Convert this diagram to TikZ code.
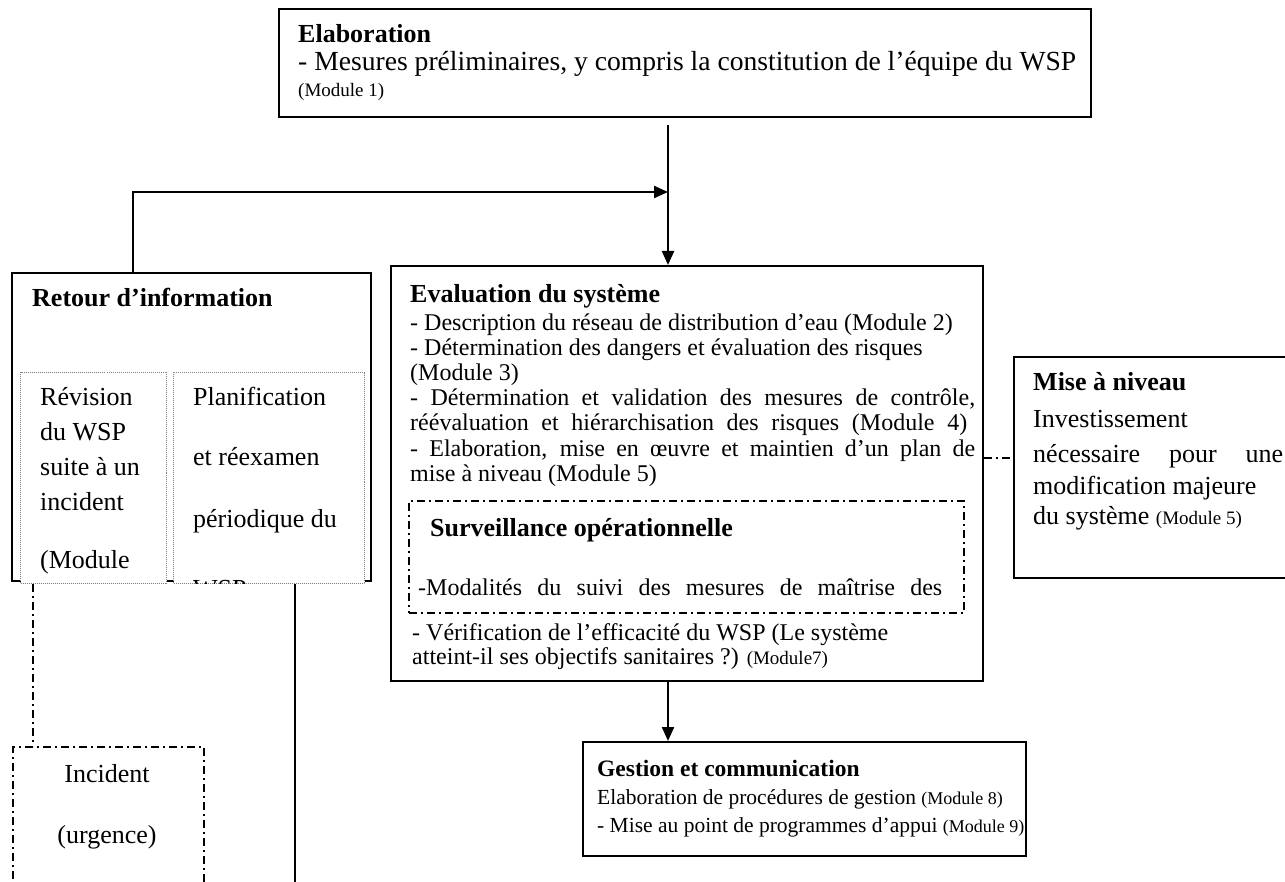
\documentclass[tikz,border=0pt]{standalone}
\usepackage{fontspec}
\setmainfont{Liberation Serif}
\usetikzlibrary{arrows.meta}
\newcommand{\modtag}[1]{{\fontsize{19}{19}\selectfont #1}}
\begin{document}
\begin{tikzpicture}
[x=1pt,y=-1pt,
  boxdecorate/.style={draw,line width=2.2pt,inner sep=0pt,anchor=north west},%
  dotboxdecorate/.style={draw=gray,densely dotted,line width=1pt,fill=white,inner sep=0pt,anchor=north west},%
  dashboxdecorate/.style={draw,line width=2pt,dash pattern=on 8pt off 4pt on 2pt off 4pt,inner sep=0pt,anchor=north west},%
  dashdecorate/.style={line width=2pt,dash pattern=on 8pt off 4pt on 2pt off 4pt},%
  linedecorate/.style={-,line width=2.2pt},%
  arrowdecorate/.style={-{Triangle[length=14pt,width=12pt]},line width=2.2pt},%
  titletext/.style={anchor=base west,inner sep=0pt,font=\fontsize{26}{26}\selectfont\bfseries},%
  bodytext/.style={anchor=base west,inner sep=0pt,font=\fontsize{24}{24}\selectfont},%
  largetext/.style={anchor=base west,inner sep=0pt,font=\fontsize{26}{26}\selectfont},%
  smalltext/.style={anchor=base west,inner sep=0pt,font=\fontsize{21.5}{21.5}\selectfont}]
\useasboundingbox (0,0) rectangle (1285,882);
%% boxes
\foreach \nodename/\x/\y/\w/\h in {
  elab/278/8/812/108, retour/11/272/359/308, eval/390/265/592/415,
  mise/1013/356/300/221, gest/582/741/443/114} {
  \node (\nodename) [boxdecorate,minimum width=\w pt,minimum height=\h pt] at (\x,\y) {};
}
\foreach \nodename/\x/\y/\w/\h in {revis/20/372/146/211, plan/173/372/191/211} {
  \node (\nodename) [dotboxdecorate,minimum width=\w pt,minimum height=\h pt] at (\x,\y) {};
}
\foreach \nodename/\x/\y/\w/\h in {surv/408/500/555/112, incid/12/746/191/160} {
  \node (\nodename) [dashboxdecorate,minimum width=\w pt,minimum height=\h pt] at (\x,\y) {};
}
%% texts
\node (elabtitle) [titletext] at (298,43) {Elaboration};
\node (elab1) [largetext,font=\fontsize{27.6}{27.6}\selectfont] at (298,71) {- Mesures préliminaires, y compris la constitution de l’équipe du WSP};
\node (elab2) [largetext] at (298,97) {\modtag{(Module 1)}};
\node (retourtitle) [titletext] at (32,307) {Retour d’information};
\foreach \nodename/\y/\text in {rv1/406/{Révision}, rv2/440/{du WSP}, rv3/475/{suite à un},
  rv4/510/{incident}, rv5/568/{(Module}} {
  \node (\nodename) [largetext] at (40,\y) {\text};
}
\begin{scope}
  \clip (173,372) rectangle (364,583);
  \foreach \nodename/\y/\text in {pl1/406/{Planification}, pl2/465/{et réexamen},
    pl3/527/{périodique du}, pl4/597/{WSP}} {
    \node (\nodename) [largetext] at (193,\y) {\text};
  }
\end{scope}
\node (incid1) [largetext,anchor=base] at (107,782) {Incident};
\node (incid2) [largetext,anchor=base] at (107,843) {(urgence)};
\node (evaltitle) [titletext] at (410,303) {Evaluation du système};
\foreach \nodename/\y/\text in {
  ev1/331/{- Description du réseau de distribution d’eau (Module 2)},
  ev2/356/{- Détermination des dangers et évaluation des risques},
  ev3/381/{(Module 3)},
  ev4/406/{\makebox[565pt][s]{- Détermination et validation des mesures de contrôle,}},
  ev5/431/{\makebox[557pt][s]{réévaluation et hiérarchisation des risques (Module 4)}},
  ev6/456/{\makebox[565pt][s]{- Elaboration, mise en œuvre et maintien d’un plan de}},
  ev7/481/{mise à niveau (Module 5)}} {
  \node (\nodename) [bodytext] at (410,\y) {\text};
}
\node (survtitle) [titletext] at (430,536) {Surveillance opérationnelle};
\node (surv1) [bodytext] at (418,595) {\makebox[524pt][s]{-Modalités du suivi des mesures de maîtrise des}};
\node (ev8) [bodytext] at (412,640) {- Vérification de l’efficacité du WSP (Le système};
\node (ev9) [bodytext] at (412,664) {atteint-il ses objectifs sanitaires ?) \modtag{(Module7)}};
\node (misetitle) [titletext] at (1033,391) {Mise à niveau};
\node (mise1) [largetext] at (1033,427) {Investissement};
\node (mise2) [largetext] at (1033,462) {\makebox[250pt][s]{nécessaire pour une}};
\node (mise3) [largetext] at (1033,494) {modification majeure};
\node (mise4) [largetext] at (1033,524) {du système \modtag{(Module 5)}};
\node (gesttitle) [titletext,font=\fontsize{23.5}{23.5}\selectfont\bfseries] at (597,776) {Gestion et communication};
\node (gest1) [smalltext] at (597,804) {Elaboration de procédures de gestion {\fontsize{18}{18}\selectfont(Module 8)}};
\node (gest2) [smalltext] at (597,832) {- Mise au point de programmes d’appui {\fontsize{18}{18}\selectfont(Module 9)}};
%% connectors
\coordinate (axis) at (668,192);
\coordinate (feed) at (133,192);
\coordinate (upgrade) at (0,458);
\coordinate (alert) at (33,0);
\coordinate (review) at (295,882);
\draw [arrowdecorate,shorten <=7pt] (elab.south -| axis) -- (eval.north -| axis);
\draw [arrowdecorate] (retour.north -| feed) -- (feed) -- (axis);
\draw [arrowdecorate] (eval.south -| axis) -- (gest.north -| axis);
\draw [dashdecorate] (eval.east |- upgrade) -- (mise.west |- upgrade);
\draw [dashdecorate] (revis.south -| alert) -- (incid.north -| alert);
\draw [linedecorate] (plan.south -| review) -- (review);
\end{tikzpicture}
\end{document}
